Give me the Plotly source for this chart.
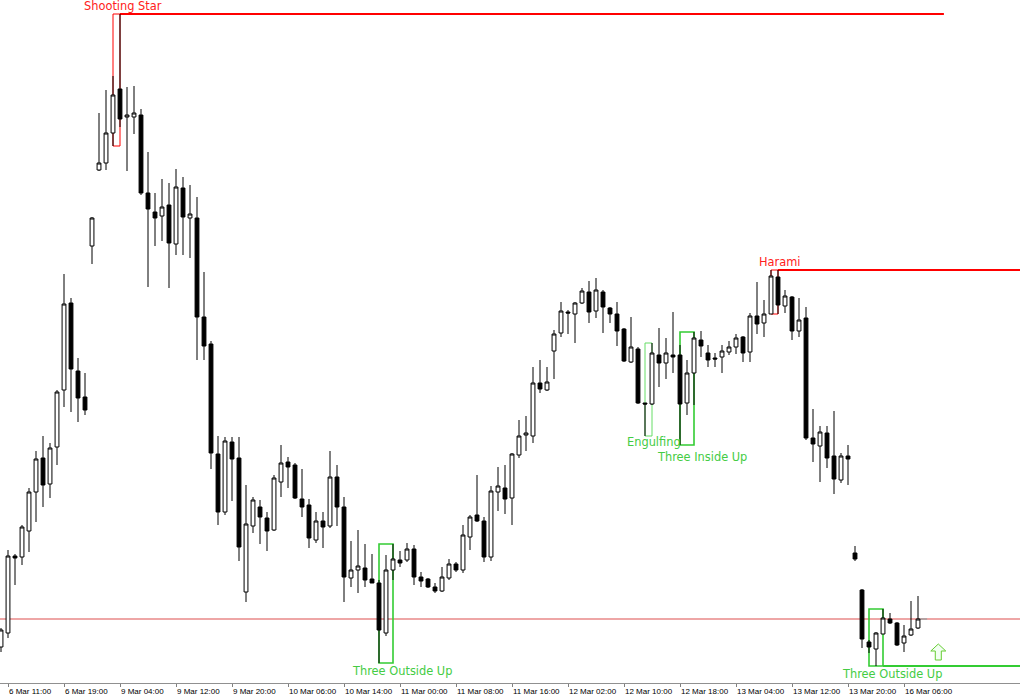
import plotly.graph_objects as go

# ---------------- data ----------------
tick_labels = ["6 Mar 11:00", "6 Mar 19:00", "9 Mar 04:00", "9 Mar 12:00", "9 Mar 20:00",
               "10 Mar 06:00", "10 Mar 14:00", "11 Mar 00:00", "11 Mar 08:00", "11 Mar 16:00",
               "12 Mar 02:00", "12 Mar 10:00", "12 Mar 18:00", "13 Mar 04:00", "13 Mar 12:00",
               "13 Mar 20:00", "16 Mar 06:00"]
tick_bars = [1, 9, 17, 25, 33, 41, 49, 57, 65, 73, 81, 89, 97, 105, 113, 121, 129]

opens = [53, 67, 144, 143, 169, 208, 242, 216, 253, 310, 397, 329, 303, 454, 530, 537, 567, 611, 583, 583,
         585, 507, 488, 484, 495, 456, 512, 482, 482, 383, 356, 246, 188, 258, 242, 108, 174, 193, 182, 170,
         218, 238, 235, 201, 195, 160, 179, 174, 223, 193, 122, 130, 132, 121, 117, 67, 130, 140, 140, 151,
         123, 121, 113, 109, 122, 136, 130, 163, 185, 179, 143, 208, 212, 202, 245, 265, 264, 317, 310, 349,
         367, 388, 386, 397, 408, 389, 408, 392, 386, 371, 338, 351, 297, 296, 345, 337, 345, 345, 297, 327,
         360, 347, 342, 343, 348, 353, 363, 348, 384, 377, 386, 423, 394, 403, 369, 382, 262, 254, 267, 244,
         220, 244, 147, 110, 58, 51, 66, 81, 77, 57, 65, 72]
highs = [72, 150, 146, 175, 212, 249, 264, 257, 310, 426, 402, 342, 327, 483, 587, 610, 624, 686, 613, 614,
         591, 548, 507, 521, 517, 531, 523, 515, 503, 428, 359, 264, 263, 263, 263, 215, 203, 200, 188, 225,
         255, 243, 237, 231, 201, 188, 188, 249, 235, 203, 159, 170, 156, 146, 120, 145, 156, 149, 157, 155,
         128, 122, 117, 133, 141, 138, 175, 185, 225, 183, 214, 233, 235, 247, 280, 284, 333, 340, 333, 370,
         398, 390, 398, 412, 419, 422, 410, 393, 398, 372, 383, 353, 297, 357, 372, 362, 388, 355, 340, 368,
         369, 355, 347, 355, 359, 366, 364, 387, 418, 400, 430, 430, 410, 404, 402, 393, 291, 274, 274, 289,
         247, 255, 154, 111, 60, 68, 91, 87, 78, 75, 99, 104]
lows = [48, 62, 115, 135, 148, 178, 193, 202, 235, 293, 288, 278, 285, 436, 529, 530, 554, 573, 529, 566,
        505, 413, 454, 459, 412, 445, 445, 442, 340, 340, 231, 175, 185, 199, 139, 98, 167, 156, 149, 169,
        203, 212, 201, 183, 152, 157, 152, 172, 174, 98, 113, 107, 113, 117, 37, 64, 120, 133, 138, 115,
        113, 112, 107, 108, 120, 128, 127, 150, 178, 138, 139, 189, 186, 175, 242, 249, 257, 307, 309, 321,
        363, 366, 357, 396, 377, 382, 367, 377, 354, 338, 337, 296, 264, 295, 313, 321, 327, 255, 285, 295,
        343, 333, 333, 327, 345, 346, 338, 338, 366, 363, 386, 386, 387, 360, 363, 260, 238, 218, 232, 206,
        217, 215, 139, 52, 47, 34, 66, 76, 54, 48, 64, 71]
closes = [70, 144, 142, 173, 208, 241, 215, 252, 308, 396, 331, 302, 290, 482, 537, 567, 605, 581, 585, 587,
          507, 491, 482, 493, 457, 513, 483, 486, 383, 354, 247, 188, 259, 241, 153, 176, 200, 183, 169, 222,
          237, 233, 202, 193, 162, 179, 173, 223, 193, 123, 130, 134, 120, 117, 70, 130, 141, 137, 151, 123,
          119, 113, 109, 123, 136, 130, 165, 183, 179, 143, 209, 214, 201, 246, 264, 267, 317, 311, 318, 366,
          389, 387, 397, 409, 388, 410, 393, 386, 369, 339, 353, 297, 296, 347, 337, 347, 343, 296, 327, 362,
          354, 340, 341, 349, 353, 362, 347, 384, 376, 386, 424, 395, 404, 369, 380, 262, 256, 268, 242, 221,
          244, 241, 141, 61, 53, 67, 82, 77, 55, 64, 71, 81]
bar_index = list(range(len(opens)))

# candlestick patterns: (label, first bar, last bar, direction)
patterns = [("Shooting Star", 16, 17, "bear"),
            ("Three Outside Up", 54, 56, "bull"),
            ("Engulfing", 92, 93, "bull"),
            ("Three Inside Up", 97, 99, "bull"),
            ("Harami", 110, 111, "bear"),
            ("Three Outside Up", 124, 126, "bull")]
level_price = 81
signal_bar = 133.9
signal_price = 40

# ---------------- styles ----------------
RED = "#ff0000"
GREEN = "#33cc33"
GREEN_TEXT = "#44cc44"
X_MIN, X_MAX = -1 / 7, 1019 / 7
pattern_style = {
    0: dict(width=1, extend_to=134.7, label_dx=1.36, dy=0),
    1: dict(width=1.6, extend_to=None, label_dx=3.29, dy=0),
    2: dict(width=1, extend_to=None, label_dx=1.29, color="#66dd66", dy=-2),
    3: dict(width=1.6, extend_to=None, label_dx=3.14, dy=4),
    4: dict(width=1, extend_to=X_MAX, label_dx=1.21, dy=0),
    5: dict(width=1.6, extend_to=X_MAX, label_dx=3.29, dy=0),
}

fig = go.Figure()
fig.add_trace(go.Candlestick(
    x=bar_index, open=opens, high=highs, low=lows, close=closes,
    increasing=dict(line=dict(color="black", width=1), fillcolor="white"),
    decreasing=dict(line=dict(color="black", width=1), fillcolor="black"),
    whiskerwidth=0, hoverinfo="skip", showlegend=False,
))

shapes = []
annotations = []
# horizontal price level
shapes.append(dict(type="line", xref="paper", x0=0, x1=1, yref="y", y0=level_price, y1=level_price,
                   line=dict(color="#e88888", width=1.3), layer="below"))
# short current-price marker
shapes.append(dict(type="line", xref="x", yref="y", x0=bar_index[-1], x1=bar_index[-1] + 1.3,
                   y0=closes[-1], y1=closes[-1], line=dict(color="#a0a0a0", width=1.5), layer="below"))

for k, (name, s, e, kind) in enumerate(patterns):
    st = pattern_style[k]
    hi = max(highs[s:e + 1])
    lo = min(lows[s:e + 1])
    col = st.get("color", RED if kind == "bear" else GREEN)
    shapes.append(dict(type="rect", xref="x", yref="y", x0=s, x1=e, y0=lo, y1=hi,
                       line=dict(color=col, width=st["width"]), fillcolor="rgba(0,0,0,0)", layer="below"))
    if st["extend_to"] is not None:
        yy = hi if kind == "bear" else lo
        shapes.append(dict(type="line", xref="x", yref="y", x0=e, x1=st["extend_to"], y0=yy, y1=yy,
                           line=dict(color=col, width=2), layer="below"))
    annotations.append(dict(
        x=s + st["label_dx"], y=hi if kind == "bear" else lo, xref="x", yref="y",
        text=name, showarrow=False, xanchor="center",
        yanchor="bottom" if kind == "bear" else "top",
        yshift=-st["dy"],
        font=dict(family="DejaVu Sans", size=11.4, color="#ff2020" if kind == "bear" else GREEN_TEXT),
        borderpad=0,
    ))

# buy signal arrow
b, p = signal_bar, signal_price
hw, sw = 1.07, 0.43
arrow_path = (f"M {b - sw},{p} L {b - sw},{p + 9} L {b - hw},{p + 9} L {b},{p + 16} "
              f"L {b + hw},{p + 9} L {b + sw},{p + 9} L {b + sw},{p} Z")
shapes.append(dict(type="path", xref="x", yref="y", path=arrow_path,
                   line=dict(color="#66cc33", width=1), fillcolor="#f2fff2"))

fig.update_layout(
    width=1020, height=700,
    margin=dict(l=0, r=0, t=0, b=17, autoexpand=False),
    paper_bgcolor="white", plot_bgcolor="white",
    boxgap=0.45, boxgroupgap=0,
    shapes=shapes, annotations=annotations,
    showlegend=False,
    xaxis=dict(range=[X_MIN, X_MAX], showgrid=False, zeroline=False, automargin=False,
               rangeslider=dict(visible=False),
               tickmode="array", tickvals=tick_bars, ticktext=tick_labels, tickangle=0,
               ticks="outside", ticklen=3, tickcolor="#808080", tickwidth=1,
               ticklabelposition="outside right",
               showline=True, linecolor="#909090", linewidth=1, mirror=True,
               tickfont=dict(family="Liberation Sans", size=8, color="black")),
    yaxis=dict(range=[17, 700], showgrid=False, zeroline=False, showticklabels=False,
               ticks="", fixedrange=True, automargin=False),
)

fig.write_html("out.html", config={"displayModeBar": False},
               post_script="document.body.style.margin='0';document.body.style.overflow='hidden';")
